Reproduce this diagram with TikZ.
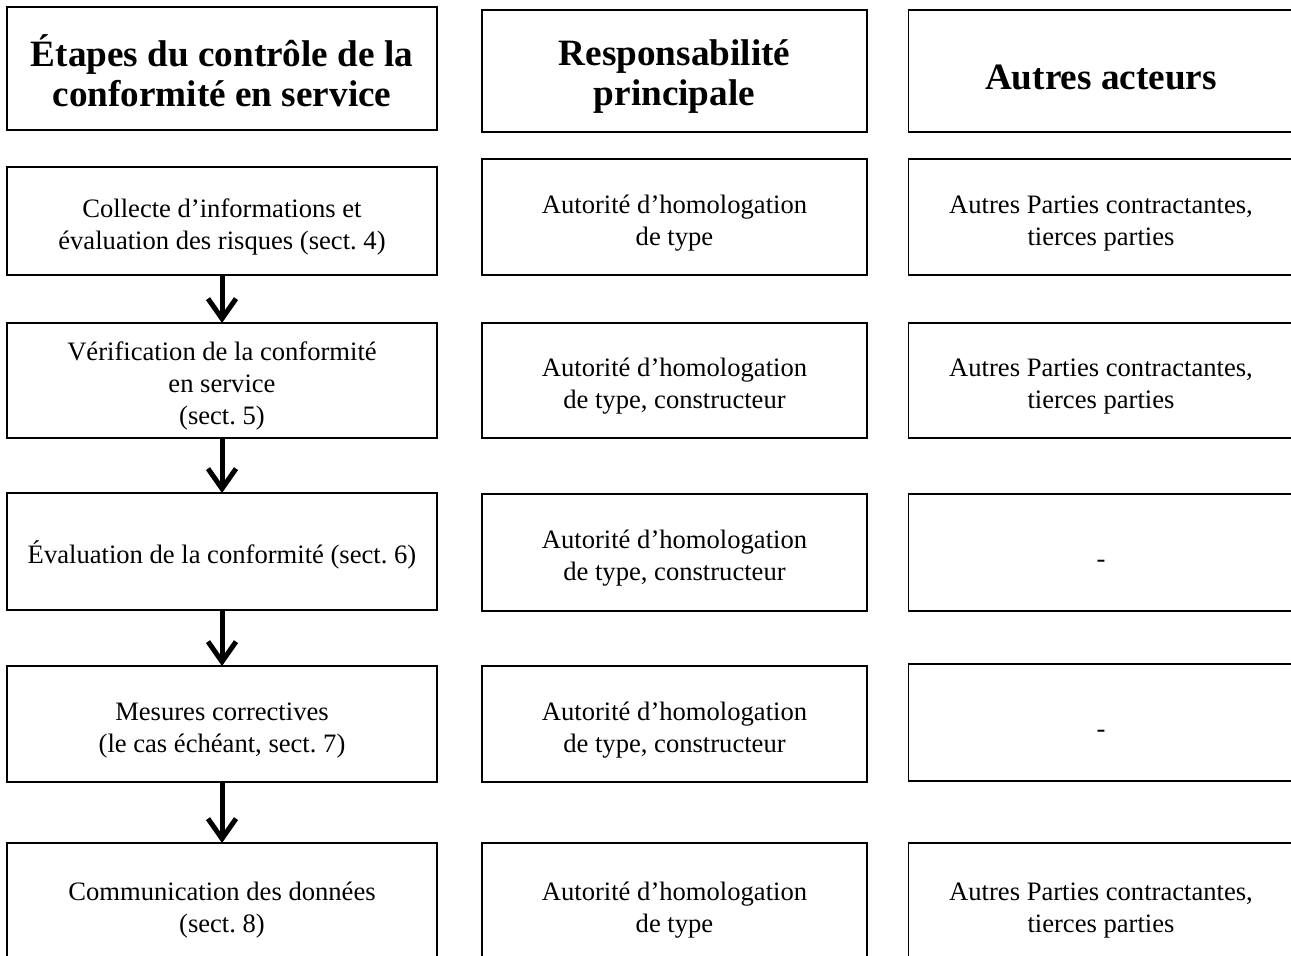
\documentclass[tikz,border=0pt]{standalone}
\usepackage{fontspec}
\setmainfont{Liberation Serif}
\usepackage{tikz}
\usetikzlibrary{arrows.meta}
\frenchspacing

\tikzset{
  boite/.style={draw, line width=0.8pt, inner sep=0pt, outer sep=0pt, align=flush center,
    font=\fontsize{13.3}{16}\selectfont, execute at begin node=\rule{0pt}{15pt}},
  titre/.style={boite, font=\fontsize{18.6}{20}\selectfont\bfseries, execute at begin node=\rule{0pt}{18.5pt}},
  large/.style={text width=215pt},
  moyen/.style={text width=192.5pt},
  fleche/.style={line width=2.5pt, -{Straight Barb[length=10pt,width=14pt]}}
}

\begin{document}
\begin{tikzpicture}[x=0.5pt, y=-0.5pt]
      \useasboundingbox (0,0) rectangle (1291,956);
      \node[titre, large, minimum height=61.5pt] (etapes) at (222, 68.5) {Étapes du contrôle de la\\conformité en service};
      \node[titre, moyen, minimum height=61pt] (resp) at (674.5, 71) {Responsabilité\\principale};
      \node[titre, moyen, minimum height=61pt] (autres) at (1101, 71) {Autres acteurs};
      \node[boite, large, minimum height=54pt] (collecte) at (222, 221) {Collecte d’informations et\\évaluation des risques (sect. 4)};
      \node[boite, large, minimum height=57.5pt] (verif) at (222, 380.5) {Vérification de la conformité\\en service\\(sect. 5)};
      \node[boite, large, minimum height=58.5pt] (evaluation) at (222, 551.5) {Évaluation de la conformité (sect. 6)};
      \node[boite, large, minimum height=58pt] (mesures) at (222, 724) {Mesures correctives\\(le cas échéant, sect. 7)};
      \node[boite, large, minimum height=61.5pt] (communication) at (222, 904.5) {Communication des données\\(sect. 8)};
      \node[boite, moyen, minimum height=58pt] (resp1) at (674.5, 217) {Autorité d’homologation\\de type};
      \node[boite, moyen, minimum height=57.5pt] (resp2) at (674.5, 380.5) {Autorité d’homologation\\de type, constructeur};
      \node[boite, moyen, minimum height=58.5pt] (resp3) at (674.5, 552.5) {Autorité d’homologation\\de type, constructeur};
      \node[boite, moyen, minimum height=58pt] (resp4) at (674.5, 724) {Autorité d’homologation\\de type, constructeur};
      \node[boite, moyen, minimum height=61.5pt] (resp5) at (674.5, 904.5) {Autorité d’homologation\\de type};
      \node[boite, moyen, minimum height=58pt] (autres1) at (1101, 217) {Autres Parties contractantes,\\tierces parties};
      \node[boite, moyen, minimum height=57.5pt] (autres2) at (1101, 380.5) {Autres Parties contractantes,\\tierces parties};
      \node[boite, moyen, minimum height=58.5pt] (autres3) at (1101, 552.5) {-};
      \node[boite, moyen, minimum height=58.5pt] (autres4) at (1101, 722.5) {-};
      \node[boite, moyen, minimum height=61.5pt] (autres5) at (1101, 904.5) {Autres Parties contractantes,\\tierces parties};
      \draw[fleche] (collecte) -- (verif);
      \draw[fleche] (verif) -- (evaluation);
      \draw[fleche] (evaluation) -- (mesures);
      \draw[fleche] (mesures) -- (communication);
    \end{tikzpicture}
\end{document}
